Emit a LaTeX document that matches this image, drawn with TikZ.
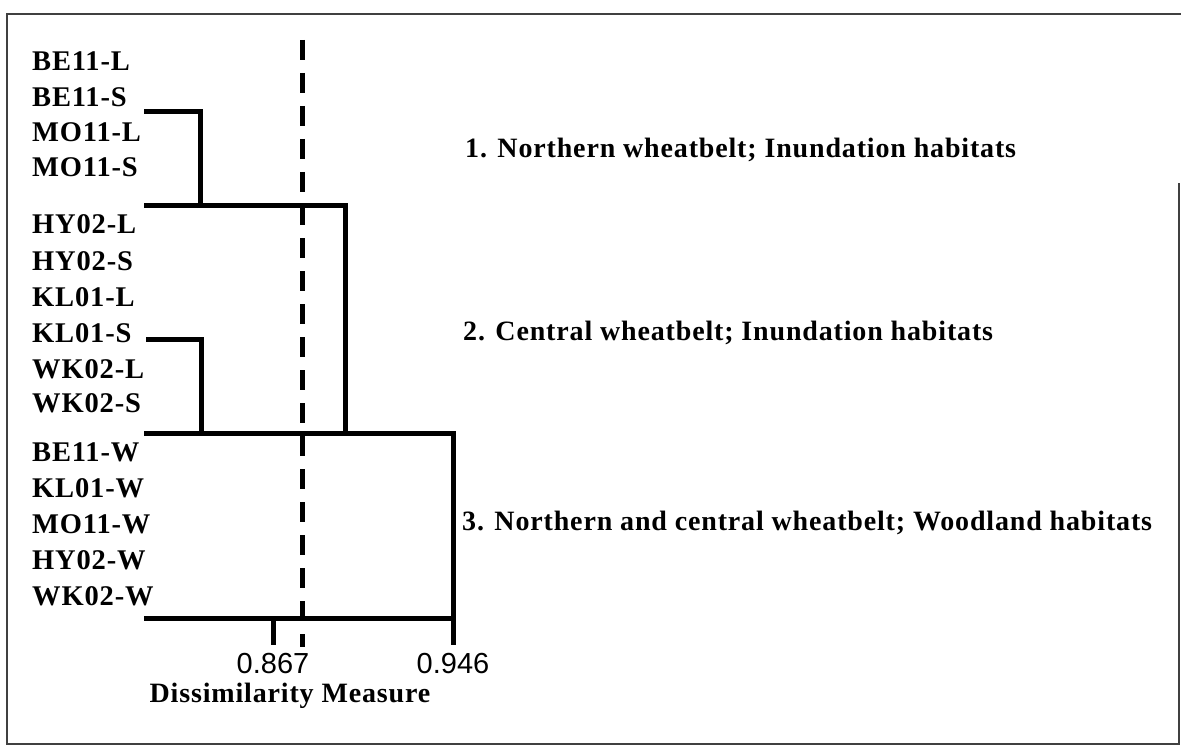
\documentclass[tikz,border=0pt]{standalone}
\usepackage{fontspec}
\setmainfont{Liberation Serif}[LetterSpace=3]
\newfontfamily\tickfont{Liberation Sans}
\begin{document}
\begin{tikzpicture}[x=1pt,y=-1pt,
  lbl/.style={anchor=base west,inner sep=0pt,font=\fontsize{28.5}{30}\selectfont\bfseries},
  grp/.style={anchor=base west,inner sep=0pt,font=\fontsize{28}{30}\selectfont\bfseries},
  tick/.style={anchor=base,inner sep=0pt,font=\fontsize{29}{30}\selectfont\tickfont},
  dend/.style={line width=5pt,line cap=butt,line join=miter},
  cut/.style={line width=5pt,dash pattern=on 20pt off 13pt},
  frame/.style={line width=1.5pt,black!75}]
\useasboundingbox (0,0) rectangle (1181,749);
% frame
\draw[frame] (1181,14) -- (7,14) -- (7,744) -- (1179,744) -- (1179,183);
% leaf labels
\node[lbl] (l1) at (32,71) {BE11-L};
\node[lbl] (l2) at (32,107) {BE11-S};
\node[lbl] (l3) at (32,142) {MO11-L};
\node[lbl] (l4) at (32,176) {MO11-S};
\node[lbl] (l5) at (32,233) {HY02-L};
\node[lbl] (l6) at (32,270) {HY02-S};
\node[lbl] (l7) at (32,306) {KL01-L};
\node[lbl] (l8) at (32,342) {KL01-S};
\node[lbl] (l9) at (32,378) {WK02-L};
\node[lbl] (l10) at (32,412) {WK02-S};
\node[lbl] (l11) at (32,461) {BE11-W};
\node[lbl] (l12) at (32,497) {KL01-W};
\node[lbl] (l13) at (32,533) {MO11-W};
\node[lbl] (l14) at (32,569) {HY02-W};
\node[lbl] (l15) at (32,605) {WK02-W};
% group labels
\node[grp] (g1) at (465,158) {1. Northern wheatbelt; Inundation habitats};
\node[grp] (g2) at (463,340) {2. Central wheatbelt; Inundation habitats};
\node[grp] (g3) at (462,530) {3. Northern and central wheatbelt; Woodland habitats};
% dendrogram coordinates
\coordinate (a1) at (144,112);
\coordinate (a2) at (200,112);
\coordinate (a3) at (200,205);
\coordinate (b1) at (144,205);
\coordinate (b2) at (345,205);
\coordinate (b3) at (345,433);
\coordinate (c1) at (146,339);
\coordinate (c2) at (201,339);
\coordinate (c3) at (201,433);
\coordinate (d1) at (144,433);
\coordinate (d2) at (453,433);
\coordinate (d3) at (453,645);
\coordinate (e1) at (144,618);
\coordinate (e2) at (453,618);
\coordinate (t1) at (273,618);
\coordinate (t2) at (273,645);
\coordinate (cutTop) at (302,40);
\coordinate (cutBot) at (302,647);
\draw[dend] (a1) -- (a2) -- (a3);
\draw[dend] (b1) -- (b2) -- (b3);
\draw[dend] (c1) -- (c2) -- (c3);
\draw[dend] (d1) -- (d2) -- (d3);
\draw[dend] (e1) -- (e2);
\draw[dend] (t1) -- (t2);
\draw[cut] (cutTop) -- (cutBot);
% axis
\node[tick] (v1) at (273,673) {0.867};
\node[tick] (v2) at (453,673) {0.946};
\node[grp,anchor=base] (ax) at (290,702) {Dissimilarity Measure};
\end{tikzpicture}
\end{document}
